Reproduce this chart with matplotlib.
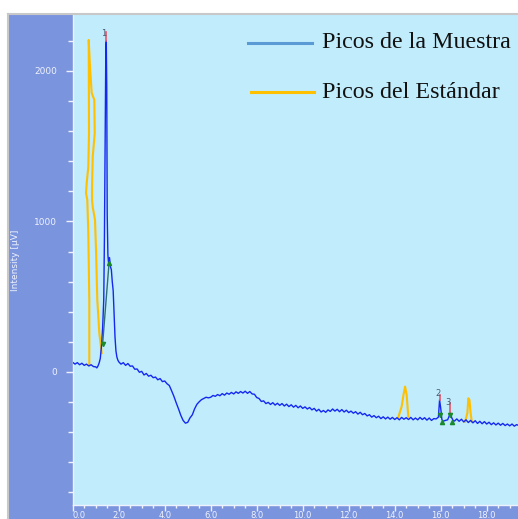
import matplotlib
matplotlib.use("Agg")
import matplotlib.pyplot as plt
from matplotlib.lines import Line2D
from matplotlib.patches import Rectangle
from matplotlib.ticker import MultipleLocator

# --- sample chromatogram (time in min, signal in µV) ---
sample_time = [
    0.0, 0.1, 0.2, 0.3, 0.4, 0.5, 0.6, 0.7, 0.8, 0.9, 1.0, 1.05, 1.1, 1.15, 1.2, 1.25,
    1.3, 1.35, 1.38, 1.41, 1.44, 1.46, 1.48, 1.50, 1.53, 1.56, 1.60, 1.64, 1.68, 1.72,
    1.76, 1.80, 1.84, 1.88, 1.92, 1.96, 2.0, 2.1, 2.2, 2.3, 2.4, 2.5, 2.6, 2.7, 2.8, 2.9,
    3.0, 3.1, 3.2, 3.3, 3.4, 3.5, 3.6, 3.7, 3.8, 3.9, 4.0, 4.1, 4.2, 4.3, 4.4, 4.5, 4.6,
    4.7, 4.8, 4.9, 5.0, 5.1, 5.2, 5.3, 5.4, 5.5, 5.6, 5.7, 5.8, 5.9, 6.0, 6.1, 6.2, 6.3,
    6.4, 6.5, 6.6, 6.7, 6.8, 6.9, 7.0, 7.1, 7.2, 7.3, 7.4, 7.5, 7.6, 7.7, 7.8, 7.9, 8.0,
    8.1, 8.2, 8.3, 8.4, 8.5, 8.6, 8.7, 8.8, 8.9, 9.0, 9.1, 9.2, 9.3, 9.4, 9.5, 9.6, 9.7,
    9.8, 9.9, 10.0, 10.1, 10.2, 10.3, 10.4, 10.5, 10.6, 10.7, 10.8, 10.9, 11.0, 11.1,
    11.2, 11.3, 11.4, 11.5, 11.6, 11.7, 11.8, 11.9, 12.0, 12.1, 12.2, 12.3, 12.4, 12.5,
    12.6, 12.7, 12.8, 12.9, 13.0, 13.1, 13.2, 13.3, 13.4, 13.5, 13.6, 13.7, 13.8, 13.9,
    14.0, 14.1, 14.2, 14.3, 14.4, 14.5, 14.6, 14.7, 14.8, 14.9, 15.0, 15.1, 15.2, 15.3,
    15.4, 15.5, 15.6, 15.7, 15.8, 15.9, 15.95, 16.0, 16.05, 16.1, 16.2, 16.3, 16.35,
    16.42, 16.48, 16.55, 16.6, 16.7, 16.8, 16.9, 17.0, 17.1, 17.2, 17.3, 17.4, 17.5,
    17.6, 17.7, 17.8, 17.9, 18.0, 18.1, 18.2, 18.3, 18.4, 18.5, 18.6, 18.7, 18.8, 18.9,
    19.0, 19.1, 19.2, 19.3, 19.4,
]
sample_signal = [
    64, 52, 62, 48, 58, 44, 52, 40, 48, 36, 34, 27, 40, 60, 90, 170,
    290, 480, 900, 1500, 2150, 2200, 1900, 1050, 780, 720, 760, 700, 680, 600,
    540, 380, 230, 140, 100, 80, 68, 52, 62, 44, 56, 38, 40, 18, 20, -2,
    4, -20, -10, -28, -22, -38, -34, -52, -44, -64, -60, -78, -90, -125, -162, -205, -245,
    -288, -322, -340, -335, -305, -285, -245, -215, -198, -184, -176, -168, -172, -168, -156, -162, -150,
    -158, -144, -154, -140, -148, -136, -146, -132, -142, -130, -140, -128, -142, -130, -146, -148, -170,
    -176, -196, -192, -210, -202, -216, -204, -220, -208, -222, -210, -226, -214, -230, -218, -234, -222,
    -238, -226, -242, -232, -246, -236, -252, -242, -260, -248, -266, -256, -268, -252,
    -262, -246, -260, -248, -264, -250, -266, -254, -270, -260, -274, -264, -280, -268,
    -284, -276, -292, -284, -300, -290, -304, -294, -310, -298, -312, -300, -314, -302,
    -316, -304, -318, -302, -314, -304, -316, -302, -318, -306, -318, -302, -316, -304,
    -320, -306, -322, -310, -312, -300, -186, -240, -315, -328, -322, -318, -300,
    -272, -305, -325, -326, -312, -328, -314, -332, -318, -336, -322, -338, -324,
    -342, -328, -344, -330, -346, -334, -350, -338, -352, -340, -354, -342, -356, -346,
    -358, -346, -360, -350, -356,
]

# --- standard chromatogram (overlaid trace) ---
standard_time = [
    0.722, 0.722, 0.678, 0.635, 0.578, 0.609, 0.678, 0.709, 0.696, 0.752, 0.826, 0.939,
    0.957, 0.896, 0.870, 0.839, 0.839, 0.870, 0.970, 1.013, 1.070, 1.157, 1.261,
]
standard_signal = [
    46, 478, 924, 1143, 1189, 1256, 1362, 1588, 2206, 2027, 1854, 1808,
    1588, 1475, 1429, 1229, 1143, 1096, 1010, 811, 478, 259, 126,
]
standard_peak_a_time = [14.16, 14.30, 14.38, 14.45, 14.52, 14.59]
standard_peak_a_signal = [-299, -231, -153, -97, -153, -297]
standard_peak_b_time = [17.06, 17.16, 17.20, 17.25, 17.30, 17.35]
standard_peak_b_signal = [-330, -272, -175, -186, -272, -330]

# --- detected peaks ---
peak_ids = ["1", "2", "3"]
peak_time = [1.46, 15.95, 16.42]
peak_apex = [2200, -186, -272]
peak_marker_top = [2262, -153, -206]
peak_label_time = [1.37, 15.88, 16.30]
peak_label_signal = [2250, -140, -206]
peak_start_time = [1.30, 15.98, 16.40]
peak_start_signal = [186, -286, -286]
peak_end_time = [1.58, 16.04, 16.47]
peak_end_signal = [724, -330, -332]

y_ticks = [0, 1000, 2000]
x_ticks = [0, 2, 4, 6, 8, 10, 12, 14, 16, 18]
x_tick_labels = ["0.0", "2.0", "4.0", "6.0", "8.0", "10.0", "12.0", "14.0", "16.0", "18.0"]
legend_labels = ["Picos de la Muestra", "Picos del Estándar"]

W, H = 518, 519
fig = plt.figure(figsize=(W / 100, H / 100), dpi=100)
fig.patch.set_facecolor("white")

panel_blue = "#7b94de"
plot_bg = "#c0ecfc"
axis_white = "#eef2fc"

# outer panel with thin grey frame
fig.add_artist(Rectangle((9 / W, 0), 1 - 9 / W, 1 - 15 / H, transform=fig.transFigure,
                         facecolor=panel_blue, edgecolor="none", zorder=0))
fig.add_artist(Line2D([8 / W, 1], [1 - 14 / H, 1 - 14 / H], transform=fig.transFigure,
                      color="#c8c8c8", lw=1.5, zorder=1))
fig.add_artist(Line2D([8 / W, 8 / W], [0, 1 - 14 / H], transform=fig.transFigure,
                      color="#c8c8c8", lw=1.5, zorder=1))

ax = fig.add_axes([72.7 / W, (H - 505) / H, (W - 72.7) / W, (505 - 15) / H])
ax.set_facecolor(plot_bg)
ax.set_xlim(0, 19.36)
ax.set_ylim(-884, 2372)

# traces
ax.plot(sample_time, sample_signal, color="#1428f0", lw=1.0, zorder=3)
ax.plot(standard_time, standard_signal, color="#ffc000", lw=1.5, zorder=2)
ax.plot(standard_peak_a_time, standard_peak_a_signal, color="#ffc000", lw=1.5, zorder=2)
ax.plot(standard_peak_b_time, standard_peak_b_signal, color="#ffc000", lw=1.5, zorder=2)

# peak annotations
ax.plot([peak_start_time[0], peak_end_time[0]], [peak_start_signal[0], peak_end_signal[0]],
        color="#2c6f74", lw=1.0, zorder=4)
for i in range(len(peak_ids)):
    ax.plot([peak_time[i], peak_time[i]], [peak_apex[i], peak_marker_top[i]],
            color="#e8546a", lw=1.2, zorder=4)
    ax.text(peak_label_time[i], peak_label_signal[i], peak_ids[i], fontsize=6,
            color="#4c5a72", ha="center", va="center", zorder=5)
    ax.plot(peak_start_time[i], peak_start_signal[i], marker="v", ms=3,
            color="#1b8a2c", zorder=5)
    ax.plot(peak_end_time[i], peak_end_signal[i], marker="^", ms=3,
            color="#1b8a2c", zorder=5)

# axes styling
for side in ("top", "right"):
    ax.spines[side].set_visible(False)
for side in ("left", "bottom"):
    ax.spines[side].set_color(axis_white)
    ax.spines[side].set_linewidth(1.0)

ax.set_yticks(y_ticks)
ax.set_yticklabels([str(v) for v in y_ticks])
ax.yaxis.set_minor_locator(MultipleLocator(200))
ax.set_xticks(x_ticks)
ax.set_xticklabels(x_tick_labels)
ax.xaxis.set_minor_locator(MultipleLocator(0.5))
ax.tick_params(axis="y", which="major", length=5, width=1, color=axis_white,
               labelcolor=axis_white, labelsize=6.5, pad=6)
ax.tick_params(axis="y", which="minor", length=3.5, width=1, color=axis_white)
ax.tick_params(axis="x", which="major", length=4, width=1, color=axis_white,
               labelcolor=axis_white, labelsize=6, pad=0.5)
ax.tick_params(axis="x", which="minor", length=2.5, width=1, color=axis_white)
ax.get_xticklabels()[0].set_ha("left")
ax.set_ylabel("Intensity [µV]", color=axis_white, fontsize=6.5)
ax.yaxis.set_label_coords(-0.118, 0.5)

# legend
serif = "Liberation Serif"
leg_colors = ["#5b9bd5", "#ffc000"]
leg_y = [43, 92]
leg_x0 = [248, 251]
leg_x1 = [312, 314]
for lab, c, y, x0, x1 in zip(legend_labels, leg_colors, leg_y, leg_x0, leg_x1):
    fig.add_artist(Line2D([x0 / W, x1 / W], [1 - y / H, 1 - y / H], transform=fig.transFigure,
                          color=c, lw=2.2, zorder=6))
    fig.text(322 / W, 1 - y / H, lab, family=serif, fontsize=17.3, color="#111111",
             ha="left", va="center", zorder=6)

fig.savefig("out.png", dpi=100)
